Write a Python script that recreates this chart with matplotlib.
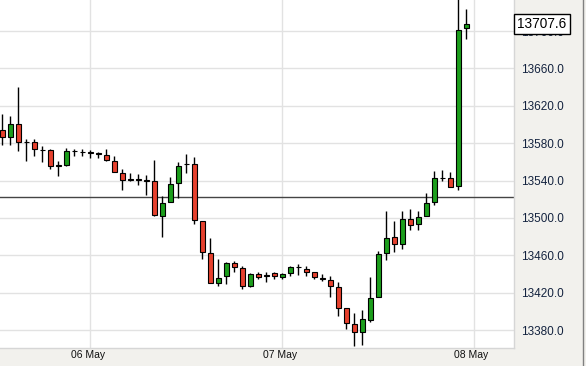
import matplotlib
matplotlib.use('Agg')
import matplotlib.pyplot as plt
import matplotlib.transforms as mtransforms
from matplotlib.lines import Line2D

plt.rcParams['font.family'] = ['Liberation Sans', 'DejaVu Sans']

# ---- data (hourly candles) ----
opens = [13593.8, 13586.8, 13601.0, 13581.4, 13581.7, 13573.0, 13572.8, 13555.9, 13556.7, 13572.0,
         13571.0, 13570.0, 13569.0, 13567.5, 13561.0, 13548.2, 13541.0, 13541.0, 13540.5, 13539.6,
         13501.6, 13517.0, 13537.4, 13558.0, 13557.8, 13497.0, 13462.4, 13430.8, 13438.0, 13451.6,
         13446.3, 13427.3, 13439.8, 13438.5, 13440.5, 13436.6, 13440.9, 13447.2, 13445.2, 13442.0,
         13435.2, 13433.4, 13426.5, 13403.4, 13386.2, 13378.3, 13390.8, 13415.2, 13462.4, 13479.5,
         13472.0, 13498.8, 13493.4, 13502.4, 13516.6, 13543.0, 13543.0, 13533.8, 13702.9]
highs = [13610.7, 13608.8, 13640.0, 13584.6, 13584.6, 13577.4, 13573.5, 13561.3, 13575.0, 13574.2,
         13573.9, 13572.4, 13570.3, 13573.9, 13566.7, 13552.8, 13548.2, 13547.0, 13546.3, 13562.4,
         13523.0, 13543.9, 13560.0, 13568.8, 13565.3, 13497.0, 13478.4, 13456.2, 13452.7, 13454.4,
         13449.0, 13441.0, 13442.0, 13441.6, 13442.0, 13441.0, 13449.0, 13450.9, 13448.0, 13442.0,
         13440.0, 13438.0, 13431.3, 13403.4, 13398.0, 13401.6, 13436.6, 13464.1, 13507.0, 13497.0,
         13507.0, 13509.5, 13507.7, 13526.7, 13549.9, 13551.7, 13548.8, 13735.0, 13723.3]
lows = [13577.8, 13578.5, 13571.3, 13560.6, 13566.0, 13559.5, 13552.4, 13544.5, 13556.0, 13566.0,
        13566.7, 13564.6, 13564.6, 13561.3, 13549.0, 13530.0, 13539.9, 13535.0, 13524.9, 13502.0,
        13479.5, 13517.0, 13521.3, 13548.2, 13493.5, 13456.2, 13430.0, 13427.6, 13429.1, 13441.6,
        13424.0, 13426.0, 13434.5, 13431.9, 13435.0, 13434.5, 13437.3, 13439.0, 13438.0, 13434.5,
        13433.0, 13415.8, 13395.4, 13381.2, 13363.3, 13364.0, 13389.0, 13415.2, 13455.2, 13463.0,
        13467.0, 13486.6, 13486.6, 13502.0, 13514.0, 13539.0, 13533.0, 13529.5, 13691.9]
closes = [13586.8, 13600.7, 13581.4, 13581.0, 13573.5, 13572.6, 13555.7, 13555.5, 13571.7, 13571.2,
          13570.4, 13569.4, 13568.2, 13562.1, 13549.2, 13540.6, 13540.5, 13540.6, 13540.0, 13502.7,
          13516.0, 13536.4, 13555.7, 13557.5, 13498.0, 13463.4, 13430.8, 13435.5, 13451.6, 13447.3,
          13427.3, 13440.2, 13436.6, 13438.0, 13437.7, 13439.8, 13447.7, 13447.0, 13442.6, 13436.6,
          13435.0, 13427.6, 13403.4, 13387.3, 13377.6, 13391.6, 13414.1, 13461.6, 13478.4, 13472.0,
          13498.8, 13492.0, 13501.0, 13516.0, 13542.8, 13542.5, 13533.1, 13700.8, 13707.6]
candle_idx = list(range(len(opens)))

day_labels = ['06 May', '07 May', '08 May']
day_ticks = [11, 35, 59]
y_ticks = [13380, 13420, 13460, 13500, 13540, 13580, 13620, 13660, 13700]
ref_level = 13522.3
last_price = 13707.6

# ---- figure ----
W, H = 586, 366
fig = plt.figure(figsize=(W / 100, H / 100), dpi=100, facecolor='#f2f1ed')
ax_left, ax_right, ax_bottom, ax_top = 0, 514.3, 18.5, 366
ax = fig.add_axes([ax_left / W, ax_bottom / H, (ax_right - ax_left) / W, (ax_top - ax_bottom) / H])
ax.set_facecolor('white')
ax.set_xlim(-0.3, 64.0)
ax.set_ylim(13361.3, 13733.2)

# grid
ax.set_axisbelow(True)
ax.set_yticks(y_ticks)
ax.set_yticklabels([f'{v:.1f}' for v in y_ticks])
ax.set_xticks(day_ticks)
ax.set_xticklabels(day_labels)
ax.grid(True, color='#e2e2e2', lw=1.0)

# reference line
ax.axhline(ref_level, color='#444444', lw=1.0, zorder=1.5)

# candles
up_col, dn_col = '#1c9e1c', '#e6412e'
ax.vlines(candle_idx, lows, highs, color='black', lw=1.0, zorder=2)
bottoms = [min(o, c) for o, c in zip(opens, closes)]
heights = [max(abs(c - o), 0.6) for o, c in zip(opens, closes)]
colors = [up_col if c >= o else dn_col for o, c in zip(opens, closes)]
ax.bar(candle_idx, heights, bottom=bottoms, width=0.58, color=colors,
       edgecolor='black', linewidth=0.8, zorder=3)

# axes styling
ax.yaxis.tick_right()
ax.tick_params(axis='y', length=0, pad=4.6, labelsize=8.5, labelcolor='#14233f')
ax.tick_params(axis='x', length=0, pad=1.5, labelsize=7.5, labelcolor='#111111')
offset = mtransforms.ScaledTranslation(-2.7 / 100, 0, fig.dpi_scale_trans)
for lab in ax.get_xticklabels():
    lab.set_transform(lab.get_transform() + offset)
for s in ['top', 'left']:
    ax.spines[s].set_visible(False)
for s in ['right', 'bottom']:
    ax.spines[s].set_color('#d6d6d6')
    ax.spines[s].set_linewidth(1.0)

# last price box
ax.annotate(f'{last_price:.1f}', xy=(1.0058, last_price), xycoords=('axes fraction', 'data'),
            ha='left', va='center', fontsize=9.8, color='black', annotation_clip=False,
            zorder=10,
            bbox=dict(boxstyle='square,pad=0.22', fc='white', ec='black', lw=1.0))

# right border
fig.add_artist(Line2D([582.7 / W] * 2, [0, 1], transform=fig.transFigure, color='#808080', lw=1.0))

fig.savefig('out.png', dpi=100, facecolor=fig.get_facecolor())
